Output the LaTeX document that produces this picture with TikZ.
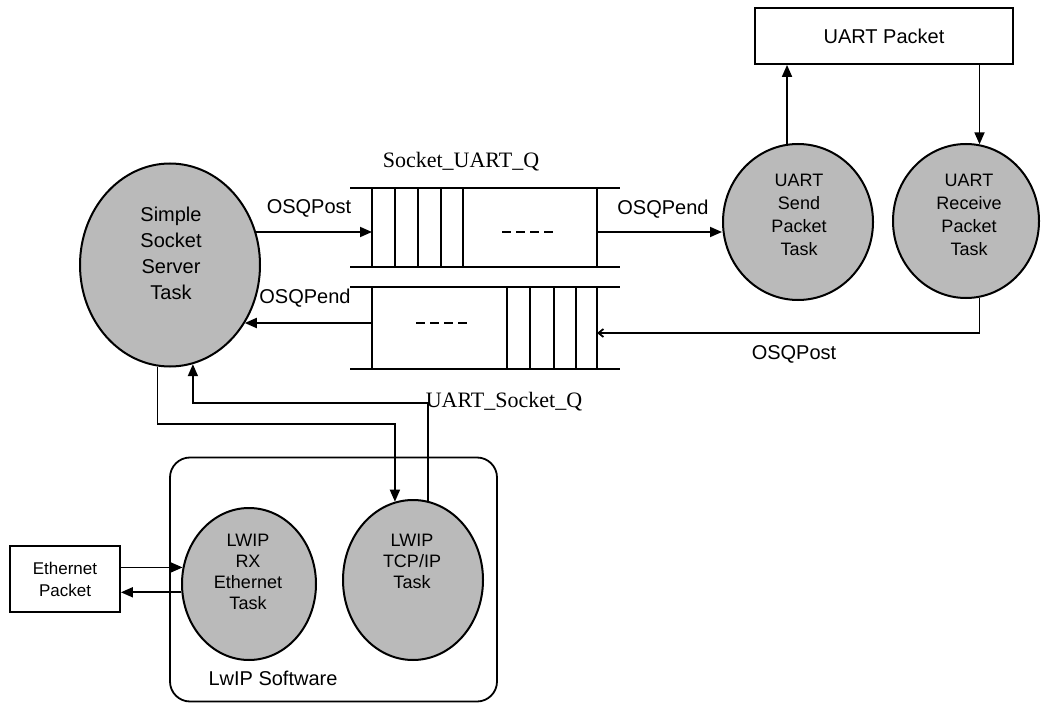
\documentclass[tikz,border=0pt]{standalone}
\usepackage{fontspec}
\setmainfont{Liberation Sans}
\newfontfamily\tnr{Liberation Serif}
\usetikzlibrary{arrows.meta,shapes.geometric}
\begin{document}
\begin{tikzpicture}[x=1pt,y=-1pt,
  task/.style={ellipse, draw, line width=2pt, fill=black!27, inner sep=0pt},
  tt/.style={align=center, inner sep=0pt},
  box/.style={draw, line width=1.8pt, inner sep=0pt},
  qline/.style={line width=1.8pt},
  arr/.style={line width=1.8pt, -{Triangle[length=12pt,width=10pt]}},
  thinarr/.style={line width=1.8pt, -{Straight Barb[length=5pt,width=8pt]}},
  lab/.style={font=\fontsize{20}{24}\selectfont, inner sep=0pt},
  qlab/.style={font=\tnr\fontsize{22}{26}\selectfont, inner sep=0pt}]
\useasboundingbox (0,0) rectangle (1041,703);

% queues
\draw[qline] (350,188) -- (620,188) (350,267) -- (620,267);
\foreach \x in {372,395,418,441,463,597} \draw[qline] (\x,188) -- (\x,267);
\draw[qline, dash pattern=on 9pt off 5pt] (502,232) -- (556,232);
\draw[qline] (350,287) -- (620,287) (350,369) -- (620,369);
\foreach \x in {372,507,530,554,576,597} \draw[qline] (\x,287) -- (\x,369);
\draw[qline, dash pattern=on 9pt off 5pt] (416,323) -- (470,323);
\coordinate (q1in) at (372,232);
\coordinate (q1out) at (597,232);
\coordinate (q2in) at (597,333);
\coordinate (q2out) at (372,323);
\node[qlab] (q1lab) at (461,162) {Socket\_UART\_Q};
\node[qlab] (q2lab) at (504,402) {UART\_Socket\_Q};

% boxes
\node[box, minimum width=258, minimum height=56, font=\fontsize{20}{24}\selectfont] (upkt) at (884,36) {UART Packet};
\node[box, minimum width=110, minimum height=66, align=center, font=\fontsize{17}{22}\selectfont] (eth) at (65,579) {Ethernet\\Packet};
\node[draw, line width=1.8pt, rounded corners=20pt, minimum width=327, minimum height=244] (lwip) at (333.5,579.5) {};
\node[lab] (lwiplab) at (273,678) {LwIP Software};

% tasks
\node[task, minimum width=180, minimum height=203] (sst) at (170,265) {};
\node[tt, font=\fontsize{20}{26}\selectfont] (ssttxt) at (171,253) {Simple\\Socket\\Server\\Task};
\node[task, minimum width=150, minimum height=156] (send) at (798,222) {};
\node[tt, font=\fontsize{18}{23}\selectfont] (sendtxt) at (799,215) {UART\\Send\\Packet\\Task};
\node[task, minimum width=146, minimum height=154] (recv) at (966,221) {};
\node[tt, font=\fontsize{18}{23}\selectfont] (recvtxt) at (969,215) {UART\\Receive\\Packet\\Task};
\node[task, minimum width=134, minimum height=152] (rx) at (249,584) {};
\node[tt, font=\fontsize{18}{21}\selectfont] (rxtxt) at (248,572) {LWIP\\RX\\Ethernet\\Task};
\node[task, minimum width=140, minimum height=160] (tcp) at (413,580) {};
\node[tt, font=\fontsize{18}{21}\selectfont] (tcptxt) at (412,561) {LWIP\\TCP/IP\\Task};

% labels
\node[lab] (osqpost1) at (309,208) {OSQPost};
\node[lab] (osqpend1) at (663,209) {OSQPend};
\node[lab] (osqpend2) at (305,298) {OSQPend};
\node[lab] (osqpost2) at (794,354) {OSQPost};

% connectors
\draw[arr] (sst.21 |- q1in) -- (q1in);
\draw[arr] (q1out) -- (send.west |- q1out);
\draw[arr] (q2out) -- (sst.-38 |- q2out);
\draw[thinarr] (recv.-80) |- (q2in);
\draw[arr] (send.98) -- (send.98 |- upkt.south);
\draw[arr] (recv.80 |- upkt.south) -- (recv.80);
\coordinate (h1) at (0,424);
\coordinate (h2) at (0,403);
\draw[arr] (sst.-97) |- (tcp.103 |- h1) -- (tcp.103);
\draw[arr] (tcp.79) |- (sst.-77 |- h2) -- (sst.-77);
\draw[arr] (eth.east |- rx.166) -- (rx.166);
\draw[arr] (rx.187) -- (eth.east |- rx.187);
\end{tikzpicture}
\end{document}
